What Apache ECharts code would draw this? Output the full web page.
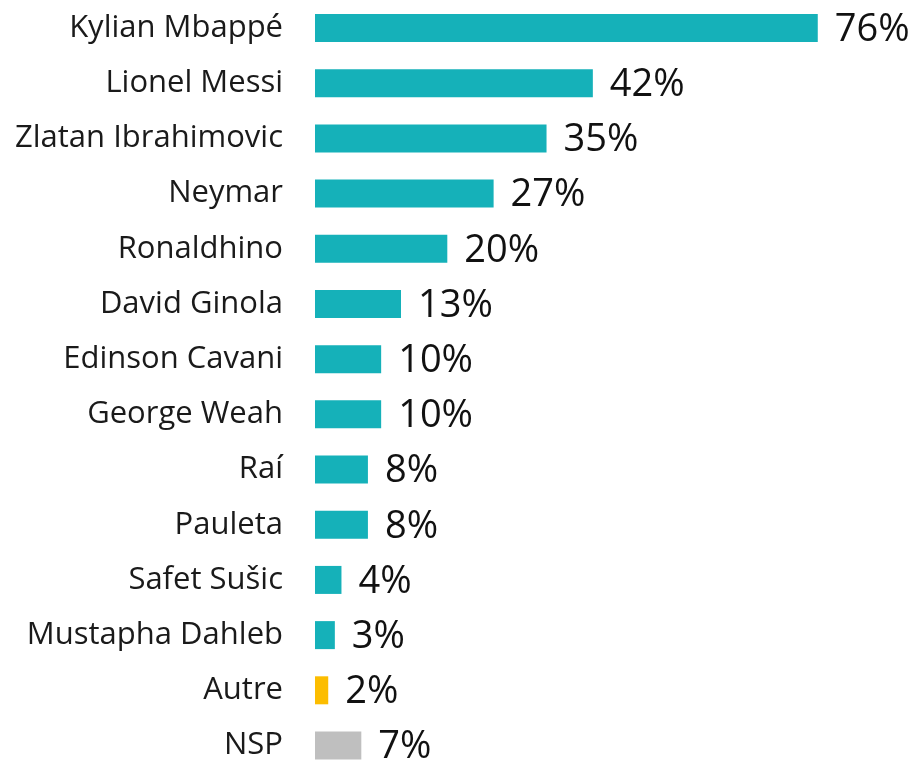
<!DOCTYPE html>
<html>
<head>
<meta charset="utf-8">
<script src="https://cdn.jsdelivr.net/npm/echarts@6/dist/echarts.min.js"></script>
<style>
  html, body { margin: 0; padding: 0; background: #fff; }
  #main { width: 917px; height: 761px; }
</style>
</head>
<body>
<div id="main"></div>
<script>
// joueurs, du haut vers le bas
const players = ['Kylian Mbappé', 'Lionel Messi', 'Zlatan Ibrahimovic', 'Neymar', 'Ronaldhino',
  'David Ginola', 'Edinson Cavani', 'George Weah', 'Raí', 'Pauleta', 'Safet Sušic',
  'Mustapha Dahleb', 'Autre', 'NSP'];
const shares = [76, 42, 35, 27, 20, 13, 10, 10, 8, 8, 4, 3, 2, 7];
const barColors = ['#15b1b9', '#15b1b9', '#15b1b9', '#15b1b9', '#15b1b9', '#15b1b9', '#15b1b9',
  '#15b1b9', '#15b1b9', '#15b1b9', '#15b1b9', '#15b1b9', '#fcbd00', '#bfbfbf'];

const chart = echarts.init(document.getElementById('main'));

const option = {
  animation: false,
  // le canvas ne peut pas dépasser 917x761, donc lignes placées sur les ticks
  grid: { left: 315, top: 28, width: 602, height: 718 },
  xAxis: {
    type: 'value', min: 0, max: 91,
    show: false
  },
  yAxis: {
    type: 'category',
    data: players,
    inverse: true,
    boundaryGap: false,
    axisLine: { show: false },
    axisTick: { show: false },
    axisLabel: {
      margin: 32,
      fontFamily: 'Open Sans',
      fontSize: 31,
      color: '#1a1a1a'
    }
  },
  series: [{
    type: 'bar',
    barWidth: 28,
    data: shares.map((v, i) => ({ value: v, itemStyle: { color: barColors[i] } })),
    label: {
      show: true,
      position: 'right',
      distance: 17,
      formatter: '{c}%',
      fontFamily: 'Open Sans',
      fontSize: 38,
      color: '#111',
      offset: [0, 2]
    }
  }]
};

chart.setOption(option);
</script>
</body>
</html>
